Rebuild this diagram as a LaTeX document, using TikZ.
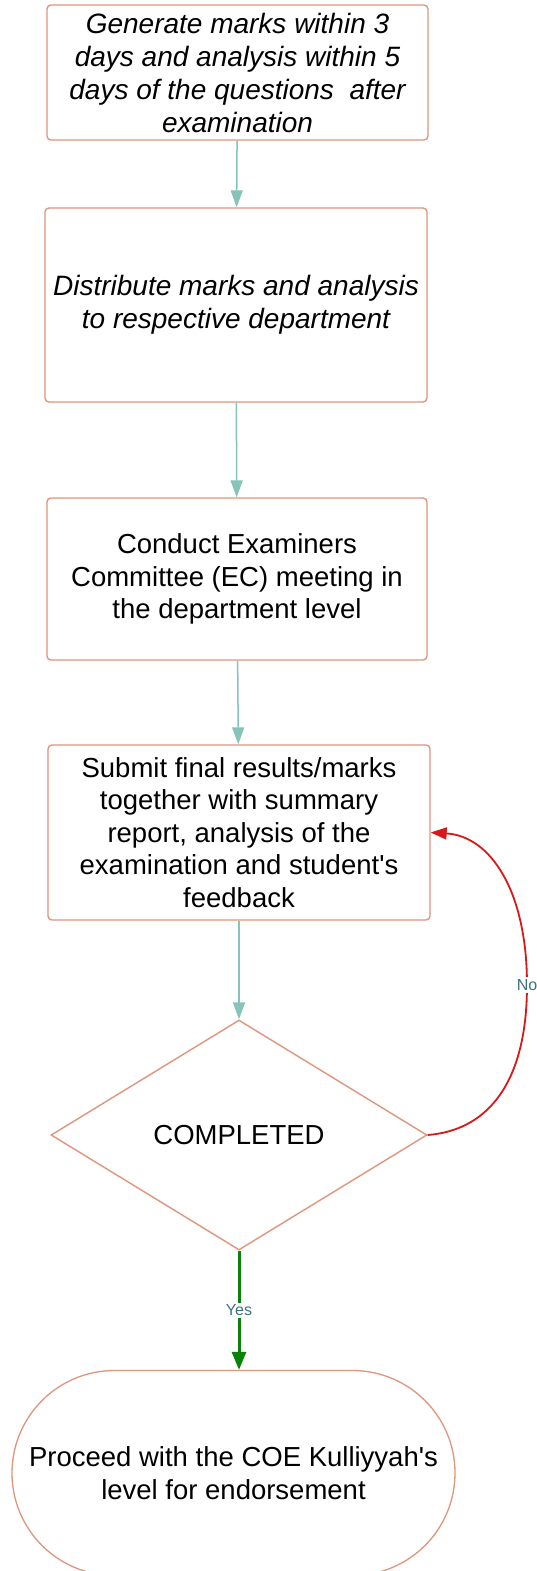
\documentclass[tikz,border=0pt]{standalone}
\usepackage{fontspec}
\setmainfont{Liberation Sans}[Ligatures=TeXOff]
\usetikzlibrary{arrows.meta,shapes.geometric,shapes.misc}
\definecolor{boxc}{RGB}{222,150,125}
\definecolor{arrc}{RGB}{135,195,185}
\definecolor{lblc}{RGB}{60,115,125}
\definecolor{redc}{RGB}{215,25,25}
\definecolor{grnc}{RGB}{10,130,10}
\begin{document}
\begin{tikzpicture}[x=1pt,y=-1pt,
  box/.style={draw=boxc, line width=1.4pt, rounded corners=4pt, fill=white, align=center,
    font=\fontsize{27.5}{32.5}\selectfont, inner sep=0pt},
  itbox/.style={box, font=\fontsize{28}{33}\selectfont\itshape},
  decision/.style={draw=boxc, line width=1.4pt, shape=diamond, fill=white, inner sep=0pt,
    font=\fontsize{27.5}{32.5}\selectfont},
  terminal/.style={draw=boxc, line width=1.3pt, shape=rounded rectangle, fill=white, inner sep=0pt,
    align=center, font=\fontsize{27.5}{33}\selectfont},
  flow/.style={draw=arrc, line width=1.5pt, -{Triangle[width=12pt,length=17pt]}},
  yesflow/.style={draw=grnc, line width=3pt, -{Triangle[width=14pt,length=18pt]}},
  noflow/.style={draw=redc, line width=1.8pt, -{Triangle[width=12pt,length=16pt]}},
  lbl/.style={fill=white, text=lblc, font=\fontsize{16}{18}\selectfont, inner sep=2pt}]
\useasboundingbox[fill=white] (0,0) rectangle (537,1571);
\node[itbox, minimum width=381pt, minimum height=135pt] (b1) at (237.5,72.5)
  {Generate marks within 3\\days and analysis within 5\\days of the questions\ \ after\\examination};
\node[itbox, minimum width=382pt, minimum height=194pt] (b2) at (236,305)
  {Distribute marks and analysis\\to respective department};
\node[box, minimum width=380pt, minimum height=162pt] (b3) at (237,579)
  {Conduct Examiners\\Committee (EC) meeting in\\the department level};
\node[box, minimum width=382pt, minimum height=175pt] (b4) at (239,832.5)
  {Submit final results/marks\\together with summary\\report, analysis of the\\examination and student's\\feedback};
\node[decision, minimum width=376pt, minimum height=230pt] (dia) at (239,1135) {COMPLETED};
\node[terminal, minimum width=443pt, minimum height=205pt] (end) at (233.5,1473)
  {Proceed with the COE Kulliyyah's\\level for endorsement};
\coordinate (nomid) at (527,985);
\draw[flow] (b1) -- (b2);
\draw[flow] (b2) -- (b3);
\draw[flow] (b3) -- (b4);
\draw[flow] (b4.south) -- (dia.north);
\draw[yesflow] (dia.south) -- node[lbl] {Yes} (dia.south |- end.north);
\draw[noflow] (dia.east) .. controls (490,1130) and (527,1080) .. (nomid)
  .. controls (527,890) and (490,836) .. (b4.east);
\node[lbl] at (nomid) {No};
\end{tikzpicture}
\end{document}
